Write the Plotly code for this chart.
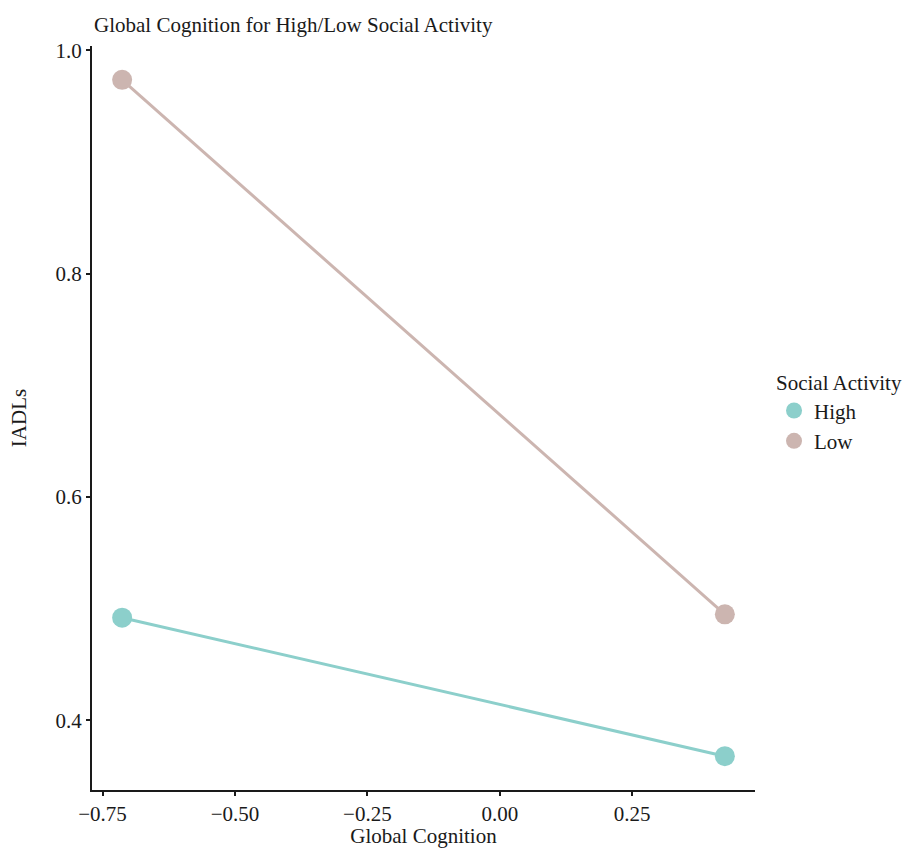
import plotly.graph_objects as go

cognition = [-0.713, 0.425]
high_iadl = [0.492, 0.368]
low_iadl = [0.9735, 0.495]
groups = ["High", "Low"]
colors = {"High": "#8ccfcb", "Low": "#ccb5b0"}
x_ticks = [-0.75, -0.50, -0.25, 0.00, 0.25]
x_tick_labels = ["\u22120.75", "\u22120.50", "\u22120.25", "0.00", "0.25"]
y_ticks = [0.4, 0.6, 0.8, 1.0]
y_tick_labels = ["0.4", "0.6", "0.8", "1.0"]

series = {"High": high_iadl, "Low": low_iadl}

fig = go.Figure()
for g in groups:
    fig.add_trace(go.Scatter(
        x=cognition, y=series[g], mode="lines+markers",
        line=dict(color=colors[g], width=3),
        marker=dict(color=colors[g], size=20),
        showlegend=False, hoverinfo="x+y", name=g))
for g in groups:
    fig.add_trace(go.Scatter(
        x=[None], y=[None], mode="markers",
        marker=dict(color=colors[g], size=18),
        name=g, showlegend=True))

xw = max(cognition) - min(cognition)
allv = high_iadl + low_iadl
yw = max(allv) - min(allv)

font_family = "Liberation Serif, Times New Roman, serif"
fs = 21
fig.update_layout(
    width=904, height=848,
    paper_bgcolor="white", plot_bgcolor="white",
    margin=dict(l=92, r=149, t=46, b=58, autoexpand=False),
    font=dict(family=font_family, size=fs, color="#1a1a1a"),
    title=dict(text="Global Cognition for High/Low Social Activity",
               x=94 / 904, xref="container", xanchor="left", y=1 - 25 / 848, yref="container",
               yanchor="middle", font=dict(size=fs)),
    legend=dict(title=dict(text="Social Activity", font=dict(size=fs)),
                x=1.0287, xanchor="left", y=0.508, yanchor="middle",
                font=dict(size=fs), itemsizing="trace", tracegroupgap=0),
    xaxis=dict(range=[min(cognition) - 0.05 * xw, max(cognition) + 0.05 * xw],
               tickvals=x_ticks, ticktext=x_tick_labels,
               showline=True, linecolor="#1a1a1a", linewidth=2,
               ticks="outside", ticklen=4, tickcolor="#1a1a1a", tickwidth=1.5,
               showgrid=False, zeroline=False, automargin=False,
               tickfont=dict(size=fs),
               title=dict(text="Global Cognition", font=dict(size=fs), standoff=4)),
    yaxis=dict(range=[min(allv) - 0.05 * yw, max(allv) + 0.05 * yw],
               tickvals=y_ticks, ticktext=y_tick_labels,
               showline=True, linecolor="#1a1a1a", linewidth=2,
               ticks="outside", ticklen=4, tickcolor="#1a1a1a", tickwidth=1.5,
               showgrid=False, zeroline=False, automargin=False,
               tickfont=dict(size=fs),
               title=dict(text="IADLs", font=dict(size=fs), standoff=23)),
)

fig.write_html("out.html",
               config={"displayModeBar": False},
               post_script="document.body.style.margin='0';document.body.style.overflow='hidden';")
